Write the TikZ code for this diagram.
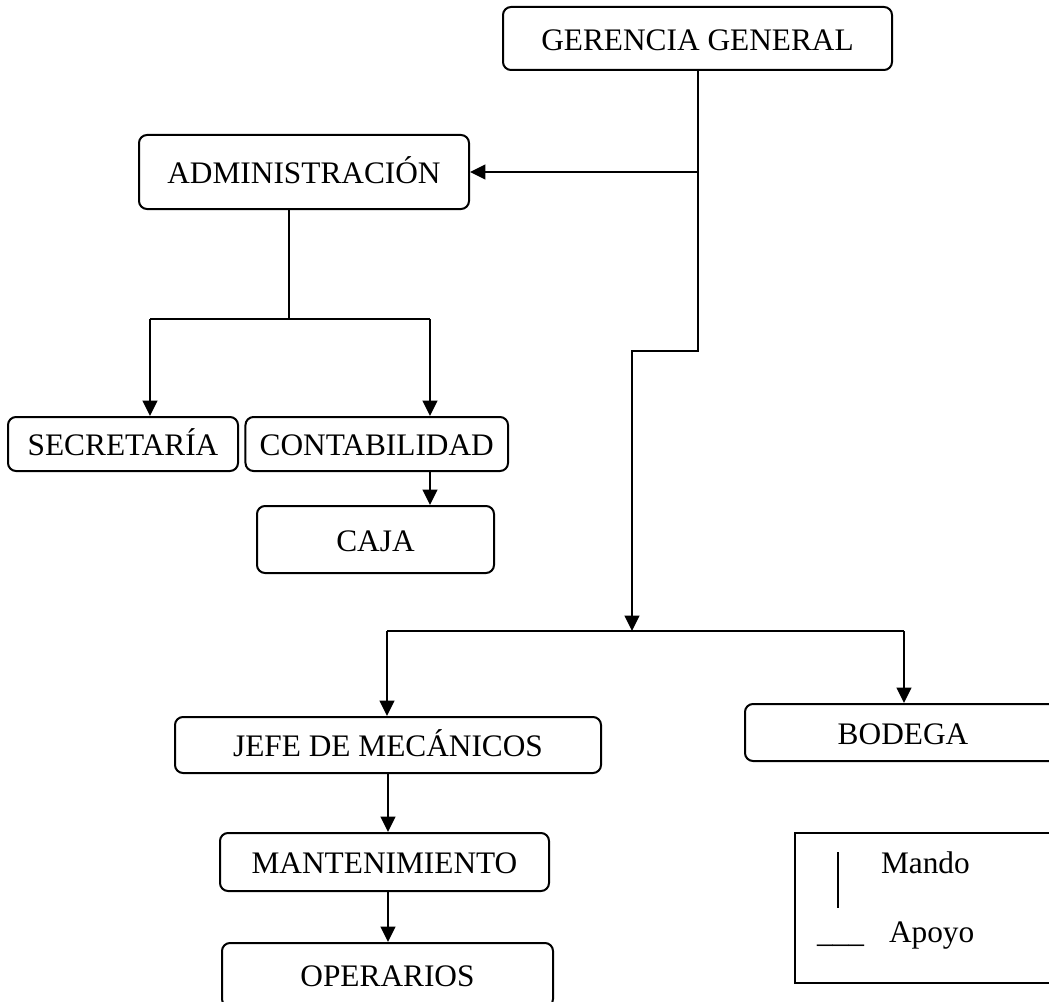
\documentclass[tikz,border=0pt]{standalone}
\usepackage{fontspec}
\setmainfont{Liberation Serif}
\usetikzlibrary{arrows.meta}

\tikzset{every picture/.style={line width=1.5pt}}

\begin{document}
\begin{tikzpicture}[x=0.75pt,y=0.75pt,yscale=-1,xscale=1,
  unidad/.style={draw,rounded corners=6pt,inner sep=0pt,text height=18.8pt,text depth=1.2pt,font=\fontsize{23.5pt}{28pt}\selectfont},
  rotulo/.style={inner sep=0pt,anchor=base west,font=\fontsize{23.5pt}{28pt}\selectfont},
  mando/.style={-{Triangle[length=11.5pt,width=11pt]}}]
\useasboundingbox (0,0) rectangle (1049,1002);
\clip (0,0) rectangle (1049,1002);

%Unidades
\node[unidad, minimum width=291.75pt, minimum height=47.25pt] (gerencia) at (697.5,38.5) {GERENCIA GENERAL};
\node[unidad, minimum width=247.5pt, minimum height=55.5pt] (admin) at (304,172) {ADMINISTRACIÓN};
\node[unidad, minimum width=172.5pt, minimum height=40.5pt] (secretaria) at (123,444) {SECRETARÍA};
\node[unidad, minimum width=196.9pt, minimum height=40.5pt] (contab) at (376.75,444) {CONTABILIDAD};
\node[unidad, minimum width=177.75pt, minimum height=50.25pt] (caja) at (375.5,539.5) {CAJA};
\node[unidad, minimum width=319.5pt, minimum height=42pt] (jefe) at (388,745) {JEFE DE MECÁNICOS};
\node[unidad, minimum width=246.75pt, minimum height=43.5pt] (mant) at (384.5,862) {MANTENIMIENTO};
\node[unidad, minimum width=248.25pt, minimum height=48pt] (oper) at (387.5,975) {OPERARIOS};
\node[unidad, minimum width=237pt, minimum height=42.75pt] (bodega) at (903,732.5) {BODEGA};

%Puntos de quiebre
\coordinate (ramaAdmin) at (697.5,172);
\coordinate (quiebre1) at (697.5,351);
\coordinate (quiebre2) at (632,351);
\coordinate (barra) at (632,631);
\coordinate (barraIzq) at (387,631);
\coordinate (barraDer) at (904,631);
\coordinate (ejeAdmin) at (289,319);
\coordinate (ramaSec) at (150,319);
\coordinate (ramaCont) at (430,319);

%Gerencia
\draw[mando] (gerencia.south) -- (quiebre1) -- (quiebre2) -- (barra);
\draw[mando] (ramaAdmin) -- (admin.east |- ramaAdmin);
%Administracion
\draw (admin.south -| ejeAdmin) -- (ejeAdmin);
\draw (ramaSec) -- (ramaCont);
\draw[mando] (ramaSec) -- (ramaSec |- secretaria.north);
\draw[mando] (ramaCont) -- (ramaCont |- contab.north);
\draw[mando] (contab.south -| ramaCont) -- (caja.north -| ramaCont);
%Taller
\draw (barraIzq) -- (barraDer);
\draw[mando] (barraIzq) -- (barraIzq |- jefe.north);
\draw[mando] (barraDer) -- (barraDer |- bodega.north);
\draw[mando] (jefe.south) -- (jefe.south |- mant.north);
\draw[mando] (mant.south -| jefe.south) -- (oper.north -| jefe.south);

%Leyenda
\draw[line width=1.2pt] (795,833) rectangle (1060,983);
\draw[line width=1.2pt] (838,852) -- (838,908);
\node[rotulo] (mandoTxt) at (880,873) {Mando};
\node[rotulo] (apoyoLinea) at (816,942) {\_\_\_};
\node[rotulo] (apoyoTxt) at (888,942) {Apoyo};

\end{tikzpicture}
\end{document}
